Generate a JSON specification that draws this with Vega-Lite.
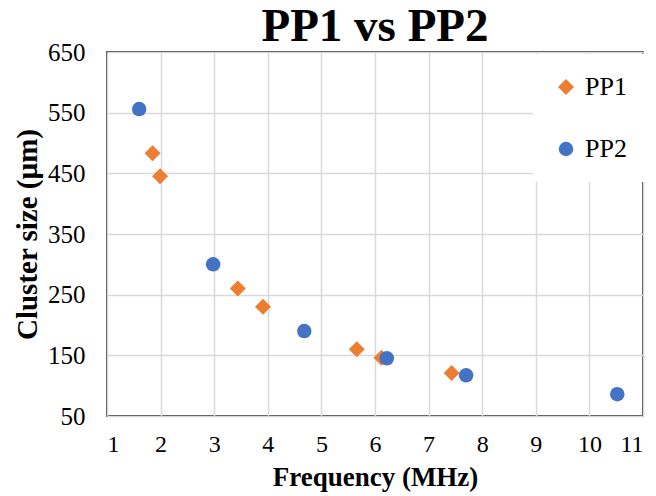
{
  "$schema": "https://vega.github.io/schema/vega-lite/v6.json",
  "width": 536,
  "height": 364,
  "autosize": {"type": "none"},
  "padding": {"left": 107, "top": 52, "right": 13, "bottom": 80},
  "background": "white",
  "title": {
    "text": "PP1 vs PP2",
    "font": "Liberation Serif",
    "fontSize": 47,
    "fontWeight": "bold",
    "color": "black",
    "anchor": "middle",
    "offset": 0,
    "dy": 11
  },
  "config": {
    "view": {"stroke": "black", "strokeWidth": 1.5},
    "axis": {
      "labelFont": "Liberation Serif",
      "labelColor": "black",
      "titleFont": "Liberation Serif",
      "titleFontWeight": "bold",
      "titleColor": "black",
      "gridColor": "#D9D9D9",
      "gridWidth": 1.5,
      "domain": false,
      "ticks": false
    }
  },
  "data": {
    "values": [
      {"series": "PP1", "freq": 1.85, "size": 483},
      {"series": "PP1", "freq": 1.99, "size": 445},
      {"series": "PP1", "freq": 3.44, "size": 260},
      {"series": "PP1", "freq": 3.91, "size": 230},
      {"series": "PP1", "freq": 5.66, "size": 160},
      {"series": "PP1", "freq": 6.12, "size": 146},
      {"series": "PP1", "freq": 7.43, "size": 121},
      {"series": "PP2", "freq": 1.6, "size": 556},
      {"series": "PP2", "freq": 2.98, "size": 300},
      {"series": "PP2", "freq": 4.68, "size": 190},
      {"series": "PP2", "freq": 6.22, "size": 145},
      {"series": "PP2", "freq": 7.7, "size": 117},
      {"series": "PP2", "freq": 10.52, "size": 86}
    ]
  },
  "mark": {"type": "point", "filled": true, "opacity": 1},
  "encoding": {
    "x": {
      "field": "freq",
      "type": "quantitative",
      "scale": {"domain": [1, 11], "nice": false, "zero": false},
      "axis": {"values": [1,2,3,4,5,6,7,8,9,10,11], "title": "Frequency (MHz)", "labelFontSize": 24, "titleFontSize": 27, "labelPadding": 16, "titlePadding": 8}
    },
    "y": {
      "field": "size",
      "type": "quantitative",
      "scale": {"domain": [50, 650], "nice": false, "zero": false},
      "axis": {"values": [50,150,250,350,450,550,650], "title": "Cluster size (µm)", "labelFontSize": 25, "titleFontSize": 29, "labelPadding": 22, "titlePadding": 5}
    },
    "color": {
      "field": "series",
      "type": "nominal",
      "scale": {"domain": ["PP1", "PP2"], "range": ["#ED7D31", "#4472C4"]},
      "legend": {
        "title": null,
        "orient": "none",
        "legendX": 426,
        "legendY": 2,
        "fillColor": "white",
        "padding": 20,
        "rowPadding": 36,
        "labelFont": "Liberation Serif",
        "labelFontSize": 26,
        "labelColor": "black",
        "symbolSize": 220,
        "labelOffset": 6
      }
    },
    "shape": {
      "field": "series",
      "type": "nominal",
      "scale": {"domain": ["PP1", "PP2"], "range": ["diamond", "circle"]}
    },
    "size": {
      "field": "series",
      "type": "nominal",
      "scale": {"domain": ["PP1", "PP2"], "range": [256, 210]},
      "legend": null
    }
  }
}
